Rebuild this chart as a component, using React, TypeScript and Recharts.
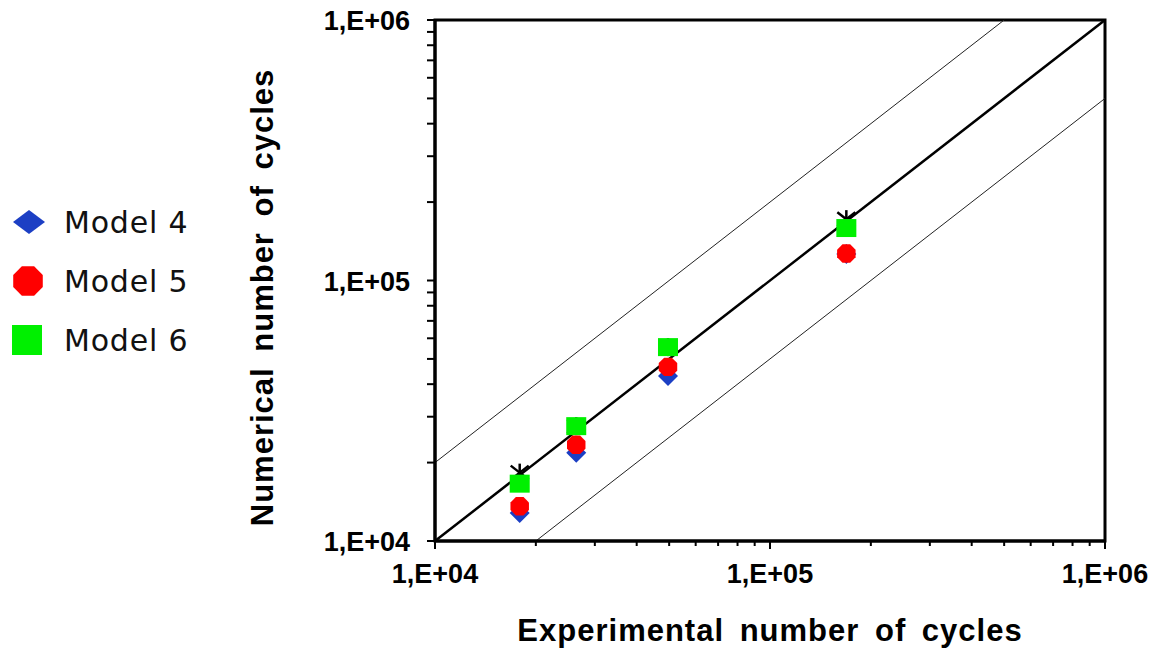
import React from 'react';
import {
  ScatterChart,
  Scatter,
  XAxis,
  YAxis,
  ReferenceLine,
  ReferenceArea,
  Legend,
  Label
} from 'recharts';

// Experimental cycles (x) for the four tests
const EXPERIMENTAL = [17900, 26400, 49600, 169000];

// Numerical cycles per model (y)
const MODEL_4 = [12800, 21800, 43000, 126500];
const MODEL_5 = [13600, 23400, 46600, 127000];
const MODEL_6 = [16600, 27600, 55500, 159000];
// black star markers, mostly hidden under the green squares
const REFERENCE = [18300, 27600, 55500, 172000];

const SERIES_NAMES = ['Model 4', 'Model 5', 'Model 6'];
const SERIES_COLORS = ['#1c3fc4', '#ff0000', '#00f000'];

const AXIS_MIN = 1e4;
const AXIS_MAX = 1e6;
const MAJOR_TICKS = [1e4, 1e5, 1e6];
const ALL_TICKS = [
  1e4, 2e4, 3e4, 4e4, 5e4, 6e4, 7e4, 8e4, 9e4,
  1e5, 2e5, 3e5, 4e5, 5e5, 6e5, 7e5, 8e5, 9e5, 1e6
];

const toPoints = (ys: number[]) => EXPERIMENTAL.map((x, i) => ({ x, y: ys[i] }));

const formatTick = (v: number) => `1,E+0${Math.round(Math.log10(v))}`;
const isMajor = (v: number) => MAJOR_TICKS.some(m => Math.abs(m - v) < 1);

const TICK_FONT = "'Liberation Sans', Arial, sans-serif";

// Bottom axis tick: outward line + label on decades
const XTick = ({ x, y, payload }: any) => {
  const major = isMajor(payload.value);
  return (
    <g>
      <line x1={x} y1={y} x2={x} y2={y + (major ? 8 : 5)} stroke="#000" strokeWidth={2} />
      {major && (
        <text x={x} y={y + 42} textAnchor="middle" fontFamily={TICK_FONT} fontWeight="bold" fontSize={27} fill="#000">
          {formatTick(payload.value)}
        </text>
      )}
    </g>
  );
};

const YTick = ({ x, y, payload }: any) => {
  const major = isMajor(payload.value);
  return (
    <g>
      <line x1={x} y1={y} x2={x - 8} y2={y} stroke="#000" strokeWidth={2} />
      {major && (
        <text x={x - 25} y={y + 10} textAnchor="end" fontFamily={TICK_FONT} fontWeight="bold" fontSize={27} fill="#000">
          {formatTick(payload.value)}
        </text>
      )}
    </g>
  );
};

// Marker shapes
const diamondPath = (cx: number, cy: number, w: number, h: number) =>
  `M${cx},${cy - h} L${cx + w},${cy} L${cx},${cy + h} L${cx - w},${cy} Z`;

const octagonPath = (cx: number, cy: number, r: number) => {
  const pts: string[] = [];
  for (let i = 0; i < 8; i++) {
    const a = Math.PI / 8 + (i * Math.PI) / 4;
    pts.push(`${cx + r * Math.cos(a)},${cy + r * Math.sin(a)}`);
  }
  return `M${pts.join(' L')} Z`;
};

const DiamondShape = ({ cx, cy }: any) => (
  <path d={diamondPath(cx, cy, 10, 10)} fill={SERIES_COLORS[0]} />
);

const OctagonShape = ({ cx, cy }: any) => (
  <path d={octagonPath(cx, cy, 10)} fill={SERIES_COLORS[1]} />
);

const SquareShape = ({ cx, cy }: any) => (
  <rect x={cx - 10} y={cy - 9} width={20} height={18} fill={SERIES_COLORS[2]} />
);

const StarShape = ({ cx, cy }: any) => (
  <g stroke="#000" strokeWidth={2.5}>
    <line x1={cx} y1={cy - 9} x2={cx} y2={cy + 9} />
    <line x1={cx - 9} y1={cy - 7} x2={cx + 9} y2={cy + 7} />
    <line x1={cx + 9} y1={cy - 7} x2={cx - 9} y2={cy + 7} />
  </g>
);

const LegendContent = () => (
  <svg width={210} height={180} style={{ display: 'block' }}>
    {SERIES_NAMES.map((name, i) => {
      const cy = 32 + i * 59;
      return (
        <g key={name}>
          {i === 0 && <path d={diamondPath(29, cy, 16, 12)} fill={SERIES_COLORS[0]} />}
          {i === 1 && <path d={octagonPath(28, cy, 16)} fill={SERIES_COLORS[1]} />}
          {i === 2 && <rect x={12} y={cy - 15} width={30} height={30} fill={SERIES_COLORS[2]} />}
          <text
            x={64}
            y={cy + 11}
            fontFamily="'DejaVu Sans', Tahoma, sans-serif"
            fontSize={30}
            letterSpacing={0.8}
            fill="#111"
          >
            {name}
          </text>
        </g>
      );
    })}
  </svg>
);

const TITLE_STYLE = {
  fontFamily: TICK_FONT,
  fontWeight: 'bold' as const,
  fontSize: 31,
  letterSpacing: 1,
  wordSpacing: 6,
  fill: '#000'
};

export default function App() {
  return (
    <div style={{ position: 'absolute', left: 0, top: 0, background: '#fff' }}>
      <ScatterChart width={1157} height={651} margin={{ top: 20, right: 52, bottom: 0, left: 0 }}>
        <XAxis
          dataKey="x"
          type="number"
          scale="log"
          domain={[AXIS_MIN, AXIS_MAX]}
          ticks={ALL_TICKS}
          interval={0}
          allowDataOverflow
          height={110}
          tickLine={false}
          tickSize={0}
          tickMargin={0}
          axisLine={{ stroke: '#000', strokeWidth: 3 }}
          tick={<XTick />}
        >
          <Label
            content={({ viewBox }: any) => (
              <text x={viewBox.x + viewBox.width / 2} y={viewBox.y + 100} textAnchor="middle" style={TITLE_STYLE}>
                Experimental number of cycles
              </text>
            )}
          />
        </XAxis>
        <YAxis
          dataKey="y"
          type="number"
          scale="log"
          domain={[AXIS_MIN, AXIS_MAX]}
          ticks={ALL_TICKS}
          interval={0}
          allowDataOverflow
          width={435}
          tickLine={false}
          tickSize={0}
          tickMargin={0}
          axisLine={{ stroke: '#000', strokeWidth: 3 }}
          tick={<YTick />}
        >
          <Label
            content={({ viewBox }: any) => {
              const cx = viewBox.x + 262;
              const cy = viewBox.y + viewBox.height / 2 + 17;
              return (
                <text
                  x={cx}
                  y={cy}
                  dy={11}
                  textAnchor="middle"
                  transform={`rotate(-90, ${cx}, ${cy})`}
                  style={TITLE_STYLE}
                >
                  Numerical number of cycles
                </text>
              );
            }}
          />
        </YAxis>

        <ReferenceArea
          x1={AXIS_MIN}
          x2={AXIS_MAX}
          y1={AXIS_MIN}
          y2={AXIS_MAX}
          fill="none"
          fillOpacity={0}
          stroke="#000"
          strokeWidth={3}
          ifOverflow="visible"
        />
        <ReferenceLine
          segment={[{ x: 1e4, y: 2e4 }, { x: 5e5, y: 1e6 }]}
          stroke="#222"
          strokeWidth={1}
        />
        <ReferenceLine
          segment={[{ x: 2e4, y: 1e4 }, { x: 1e6, y: 5e5 }]}
          stroke="#222"
          strokeWidth={1}
        />
        <ReferenceLine
          segment={[{ x: 1e4, y: 1e4 }, { x: 1e6, y: 1e6 }]}
          stroke="#000"
          strokeWidth={2.5}
        />

        <Scatter data={toPoints(REFERENCE)} shape={<StarShape />} isAnimationActive={false} legendType="none" />
        <Scatter name={SERIES_NAMES[0]} data={toPoints(MODEL_4)} shape={<DiamondShape />} isAnimationActive={false} />
        <Scatter name={SERIES_NAMES[1]} data={toPoints(MODEL_5)} shape={<OctagonShape />} isAnimationActive={false} />
        <Scatter name={SERIES_NAMES[2]} data={toPoints(MODEL_6)} shape={<SquareShape />} isAnimationActive={false} />

        <Legend
          layout="vertical"
          align="center"
          verticalAlign="middle"
          wrapperStyle={{ left: 0, top: 190, width: 210, height: 180 }}
          content={<LegendContent />}
        />
      </ScatterChart>
    </div>
  );
}
